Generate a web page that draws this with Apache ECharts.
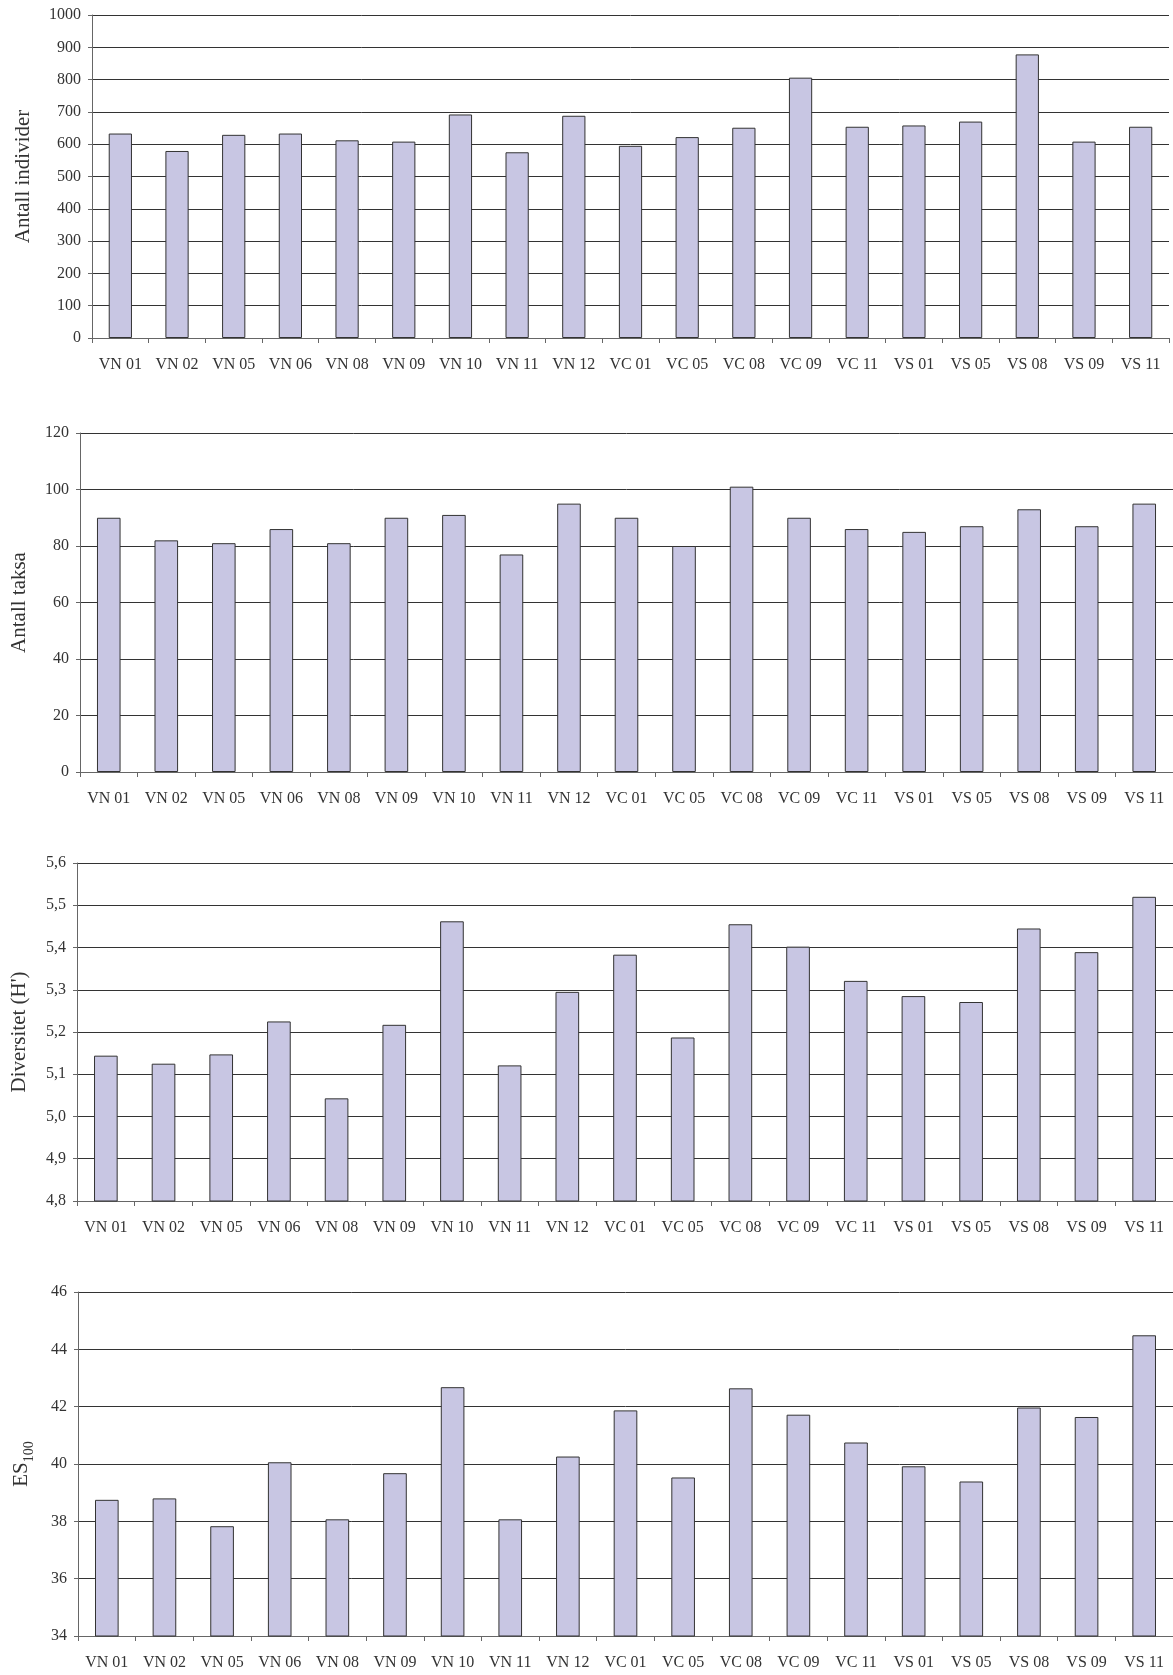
<!DOCTYPE html>
<html>
<head>
<meta charset="utf-8">
<script src="https://cdn.jsdelivr.net/npm/echarts@6/dist/echarts.min.js"></script>
<style>
  html, body { margin: 0; padding: 0; background: #fff; }
  #chart { width: 1173px; height: 1675px; }
</style>
</head>
<body>
<div id="chart"></div>
<script>
// ---- data ----
var categories = ['VN 01','VN 02','VN 05','VN 06','VN 08','VN 09','VN 10','VN 11','VN 12',
                  'VC 01','VC 05','VC 08','VC 09','VC 11','VS 01','VS 05','VS 08','VS 09','VS 11'];
var antallIndivider = [633, 579, 629, 633, 612, 608, 692, 575, 688, 595, 622, 651, 806, 654, 658, 670, 878, 608, 654];
var antallTaksa     = [90, 82, 81, 86, 81, 90, 91, 77, 95, 90, 80, 101, 90, 86, 85, 87, 93, 87, 95];
var diversitet      = [5.144, 5.125, 5.147, 5.225, 5.043, 5.217, 5.462, 5.121, 5.295, 5.383, 5.187, 5.455,
                       5.402, 5.321, 5.285, 5.271, 5.445, 5.389, 5.520];
var es100           = [38.75, 38.80, 37.83, 40.06, 38.07, 39.68, 42.68, 38.07, 40.26, 41.87, 39.53, 42.64,
                       41.72, 40.75, 39.92, 39.39, 41.97, 41.64, 44.49];

var ticks1 = [0, 100, 200, 300, 400, 500, 600, 700, 800, 900, 1000];
var ticks2 = [0, 20, 40, 60, 80, 100, 120];
var ticks3 = [4.8, 4.9, 5.0, 5.1, 5.2, 5.3, 5.4, 5.5, 5.6];
var ticks4 = [34, 36, 38, 40, 42, 44, 46];

var titles = ['Antall individer', 'Antall taksa', "Diversitet (H')", 'ES{sub|100}'];

// ---- layout / style ----
var FONT = "'Liberation Serif', 'Times New Roman', serif";
var TEXT = '#333';
var grids = [
  { left: 92, top: 15,   width: 1077, height: 323 },
  { left: 80, top: 433,  width: 1093, height: 339 },
  { left: 77, top: 863,  width: 1096, height: 338 },
  { left: 78, top: 1292, width: 1095, height: 344 }
];
var nameGaps = [58, 50, 47, 46];
var allTicks = [ticks1, ticks2, ticks3, ticks4];
var allData = [antallIndivider, antallTaksa, diversitet, es100];

function yAxisFor(i) {
  var t = allTicks[i];
  var interval = Math.round((t[1] - t[0]) * 1000) / 1000;
  return {
    type: 'value',
    gridIndex: i,
    min: t[0],
    max: t[t.length - 1],
    interval: interval,
    name: titles[i],
    nameLocation: 'middle',
    nameGap: nameGaps[i],
    nameTextStyle: {
      fontFamily: FONT, fontSize: 21, color: TEXT,
      rich: { sub: { fontFamily: FONT, fontSize: 14, color: TEXT, verticalAlign: 'bottom', padding: [0,0,-4,0] } }
    },
    axisLine: { show: true, lineStyle: { color: '#666', width: 1 } },
    axisTick: { show: true, inside: false, length: 4, lineStyle: { color: '#666' } },
    axisLabel: {
      fontFamily: FONT, fontSize: 16, color: TEXT, margin: 11,
      formatter: function (v) {
        if (i === 2) return v.toFixed(1).replace('.', ',');
        return String(Math.round(v));
      }
    },
    splitLine: { show: true, lineStyle: { color: '#333', width: 1 } }
  };
}

function xAxisFor(i) {
  return {
    type: 'category',
    gridIndex: i,
    data: categories,
    boundaryGap: true,
    axisLine: { show: true, lineStyle: { color: '#666', width: 1 } },
    axisTick: { show: true, alignWithLabel: false, length: 5, lineStyle: { color: '#666' } },
    axisLabel: { fontFamily: FONT, fontSize: 16, color: TEXT, margin: 19, interval: 0 },
    splitLine: { show: false }
  };
}

var option = {
  backgroundColor: '#fff',
  animation: false,
  grid: grids,
  xAxis: [0,1,2,3].map(xAxisFor),
  yAxis: [0,1,2,3].map(yAxisFor),
  series: [0,1,2,3].map(function (i) {
    return {
      type: 'bar',
      xAxisIndex: i,
      yAxisIndex: i,
      data: allData[i],
      barWidth: '41%',
      itemStyle: { color: '#c8c6e3', borderColor: '#333', borderWidth: 1 }
    };
  })
};

var chart = echarts.init(document.getElementById('chart'), null, { renderer: 'canvas' });
chart.setOption(option);
</script>
</body>
</html>
